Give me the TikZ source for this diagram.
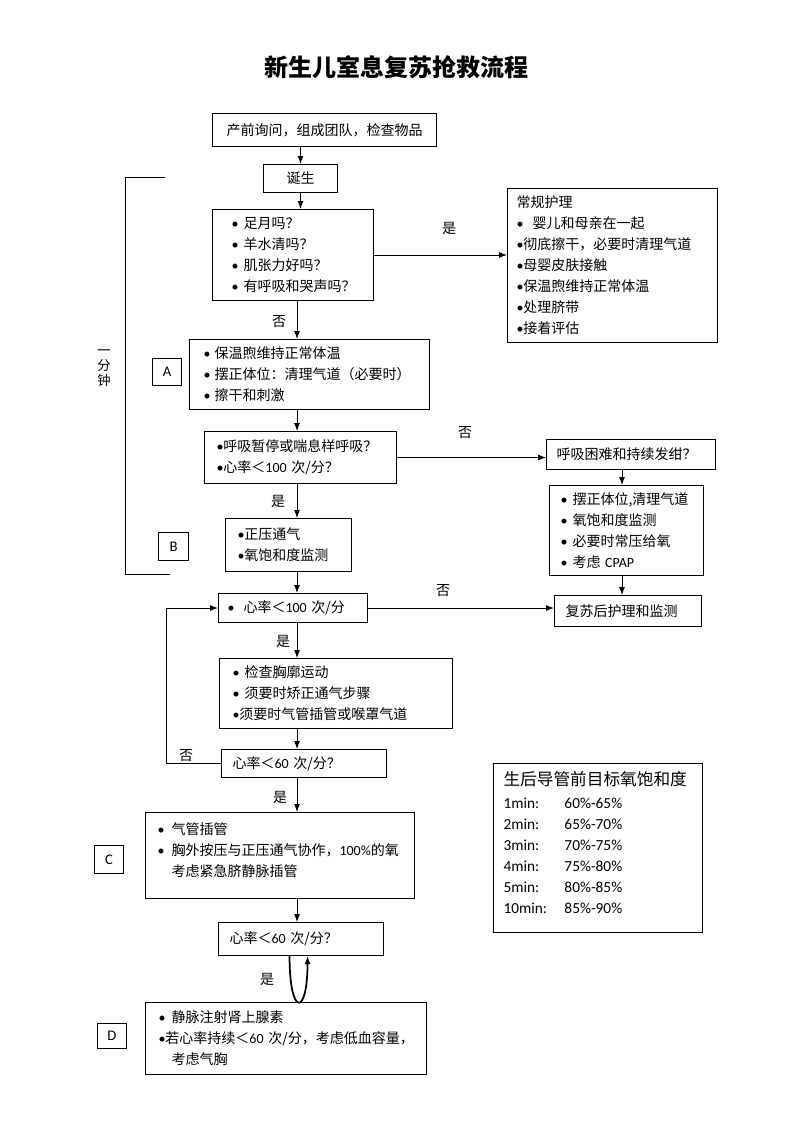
\documentclass[tikz,border=0pt]{standalone}
\usepackage{fontspec}
\setmainfont{Noto Sans CJK SC}
\newfontfamily\lat{Carlito}
\usetikzlibrary{arrows.meta}
\newcommand{\dotb}{{\lat •}}
\newcommand{\bsp}[1][9pt]{\makebox[#1][l]{\dotb}}
\newcommand{\fs}{\fontsize{10.5}{15.75}\selectfont}
\tikzset{
  box/.style={draw, line width=0.75pt, anchor=north west, align=left, inner ysep=0pt, font=\fs},
  tag/.style={draw, line width=0.75pt, anchor=north west, inner sep=0pt, font=\lat\fontsize{11}{13}\selectfont},
  lbl/.style={inner sep=0.75pt, font=\fs},
  arr/.style={-{Latex[length=6pt,width=4.5pt]}, line width=0.75pt},
}

\begin{document}
\begin{tikzpicture}[x=0.75pt,y=0.75pt,yscale=-1,xscale=1]
\useasboundingbox (0,0) rectangle (793,1122);

% Title
\node[font=\fontsize{18}{20}\selectfont\bfseries] (title) at (396,67) {新生儿室息复苏抢救流程};

% Boxes, main column
\node[box, align=center, text width=168pt, inner xsep=0pt, minimum height=24.75pt] (prep) at (212,113) {产前询问，组成团队，检查物品};
\node[box, align=center, text width=55.5pt, inner xsep=0pt, minimum height=21pt] (birth) at (263,164) {诞生};
\node[box, text width=92.25pt, inner xsep=14.25pt, minimum height=68.25pt] (assess) at (212,209)
  {\bsp 足月吗？\\ \bsp 羊水清吗？\\ \bsp 肌张力好吗？\\ \bsp 有呼吸和哭声吗？};
\node[box, text width=159pt, inner xsep=10.5pt, minimum height=52.5pt] (resA) at (189,339)
  {\bsp[8.25pt]保温煦维持正常体温\\ \bsp[8.25pt]摆正体位：清理气道（必要时）\\ \bsp[8.25pt]擦干和刺激};
\node[box, text width=126pt, inner xsep=9pt, minimum height=39pt] (breath) at (204,431)
  {\dotb 呼吸暂停或喘息样呼吸？\\ \mbox{\dotb 心率＜{\lat 100 }次/分？}};
\node[box, text width=76.5pt, inner xsep=9pt, minimum height=39.75pt] (ppv) at (225,518)
  {\dotb 正压通气\\ \dotb 氧饱和度监测};
\node[box, text width=98.25pt, inner xsep=6.75pt, minimum height=21.75pt] (hr100) at (218,593)
  {\mbox{\bsp[12pt]心率＜{\lat 100 }次/分}};
\node[box, text width=155.25pt, inner xsep=9.75pt, minimum height=52.5pt] (check) at (219,658)
  {\bsp 检查胸廓运动\\ \bsp 须要时矫正通气步骤\\ \dotb 须要时气管插管或喉罩气道};
\node[box, text width=107.25pt, inner xsep=8.25pt, minimum height=21pt] (hr60) at (221,749)
  {\mbox{心率＜{\lat 60 }次/分？}};
\node[box, text width=183.75pt, inner xsep=9pt, minimum height=64.5pt] (comp) at (145,812)
  {\bsp[10.5pt]气管插管\\ \mbox{\bsp[10.5pt]胸外按压与正压通气协作，{\lat 100\%}的氧}\\ \hspace*{10.5pt}考虑紧急脐静脉插管\\[-6.75pt]\mbox{}};
\node[box, text width=107.25pt, inner xsep=8.25pt, minimum height=24.75pt] (hr60b) at (218,922)
  {\mbox{心率＜{\lat 60 }次/分？}};
\node[box, text width=191.25pt, inner xsep=9.75pt, minimum height=54pt] (drug) at (145,1002)
  {\bsp[9.75pt]静脉注射肾上腺素\\ \mbox{\dotb 若心率持续＜{\lat 60 }次/分，考虑低血容量，}\\ \hspace*{9.75pt}考虑气胸};

% Boxes, right column
\node[box, text width=144pt, inner xsep=6.75pt, minimum height=115.5pt] (routine) at (507,188)
  {常规护理\\ \bsp[12pt]婴儿和母亲在一起\\ \dotb 彻底擦干，必要时清理气道\\ \dotb 母婴皮肤接触\\ \dotb 保温煦维持正常体温\\ \dotb 处理脐带\\ \dotb 接着评估};
\node[box, text width=111.75pt, inner xsep=7.5pt, minimum height=22.5pt] (distress) at (546,439)
  {呼吸困难和持续发绀？};
\node[box, text width=99pt, inner xsep=8.25pt, minimum height=67.5pt] (cpap) at (549,485)
  {\bsp 摆正体位,清理气道\\ \bsp 氧饱和度监测\\ \bsp 必要时常压给氧\\ \mbox{\bsp 考虑 {\lat CPAP}}};
\node[box, text width=93.75pt, inner xsep=8.25pt, minimum height=23.25pt] (post) at (554,595)
  {复苏后护理和监测};
\node[box, text width=141.75pt, inner xsep=7.5pt, minimum height=126.75pt, font=\lat\fontsize{11.5}{15.75}\selectfont] (spo2) at (493,763)
  {{\rmfamily\fontsize{12.5}{15}\selectfont 生后导管前目标氧饱和度}\\[1.5pt]
   \makebox[45.75pt][l]{1min:}60\%-65\%\\
   \makebox[45.75pt][l]{2min:}65\%-70\%\\
   \makebox[45.75pt][l]{3min:}70\%-75\%\\
   \makebox[45.75pt][l]{4min:}75\%-80\%\\
   \makebox[45.75pt][l]{5min:}80\%-85\%\\
   \makebox[45.75pt][l]{10min:}85\%-90\%\\[-6.75pt]\mbox{}};

% Step tags
\node[tag, minimum width=21.75pt, minimum height=20.25pt] (tagA) at (152,358) {A};
\node[tag, minimum width=22.5pt, minimum height=21pt] (tagB) at (158,532) {B};
\node[tag, minimum width=21.75pt, minimum height=21pt] (tagC) at (94,845) {C};
\node[tag, minimum width=21.75pt, minimum height=18.75pt] (tagD) at (97,1023) {D};

% One minute bracket
\draw[line width=0.75pt] (165,177) -- (125,177) -- (125,574) -- (170,574);
\node[lbl, align=center, font=\fontsize{10}{11}\selectfont] (onemin) at (104,368) {一\\分\\钟};

% Connectors
\coordinate (ax) at (297,0);
\coordinate (bx) at (622,0);
\draw[arr] (birth.north |- prep.south) -- (birth.north);
\draw[arr] (birth.south) -- (birth.south |- assess.north);
\draw[arr] (assess.east) -- (assess.east -| routine.west);
\draw[arr] (assess.south -| ax) -- (resA.north -| ax);
\draw[arr] (resA.south -| ax) -- (breath.north -| ax);
\draw[arr] (breath.east) -- (breath.east -| distress.west);
\draw[arr] (distress.south -| bx) -- (cpap.north -| bx);
\draw[arr] (cpap.south -| bx) -- (post.north -| bx);
\draw[arr] (breath.south -| ax) -- (ppv.north -| ax);
\draw[arr] (ppv.south -| ax) -- (hr100.north -| ax);
\draw[arr] (hr100.east) -- (hr100.east -| post.west);
\draw[arr] (hr100.south -| ax) -- (check.north -| ax);
\draw[arr] (check.south -| ax) -- (hr60.north -| ax);
\draw[arr] (hr60.west) -- ++(-55,0) |- (hr100.west);
\draw[arr] (hr60.south -| ax) -- (comp.north -| ax);
\draw[arr] (comp.south -| ax) -- (hr60b.north -| ax);
\draw[arr, line width=1.3pt] ([xshift=-8.6pt]hr60b.south) .. controls +(0,61) and +(0,61) .. ([xshift=4.9pt]hr60b.south);

% Branch labels
\node[lbl] (yes1) at (449,228) {是};
\node[lbl] (no1) at (279,322) {否};
\node[lbl] (no2) at (465,433) {否};
\node[lbl] (yes2) at (278,501) {是};
\node[lbl] (no3) at (443,591) {否};
\node[lbl] (yes3) at (283,641) {是};
\node[lbl] (no4) at (186,756) {否};
\node[lbl] (yes4) at (280,797) {是};
\node[lbl] (yes5) at (267,979) {是};

\end{tikzpicture}
\end{document}
